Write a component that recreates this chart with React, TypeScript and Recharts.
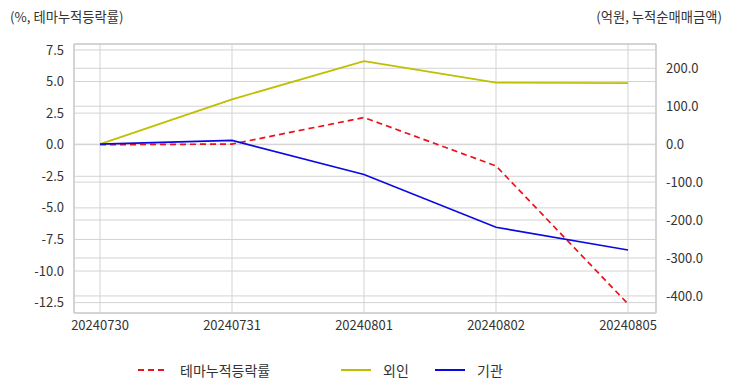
import { CartesianGrid, Line, LineChart, ReferenceLine, XAxis, YAxis } from "recharts";

const dates = ["20240730", "20240731", "20240801", "20240802", "20240805"];
const themeRate = [0, 0.05, 2.15, -1.68, -12.6];
const foreignNet = [0, 118, 219, 162, 161];
const instNet = [0, 10, -80, -219, -279];

const leftTicks = [-12.5, -10, -7.5, -5, -2.5, 0, 2.5, 5, 7.5];
const rightTicks = [-400, -300, -200, -100, 0, 100, 200];
const leftDomain: [number, number] = [-13.32, 7.97];
const rightDomain: [number, number] = [-445, 264];

const series = [
  { key: "theme", name: "테마누적등락률", color: "#e8141c", axis: "left", dash: "6 4", legendX: 138 },
  { key: "foreign", name: "외인", color: "#bfbf00", axis: "right", dash: undefined, legendX: 341 },
  { key: "inst", name: "기관", color: "#0a0ae0", axis: "right", dash: undefined, legendX: 435 },
];

const data = dates.map((date, i) => ({
  date,
  theme: themeRate[i],
  foreign: foreignNet[i],
  inst: instNet[i],
}));

const font = '"Noto Sans CJK KR", "Noto Sans", sans-serif';
const frame = "#cccccc";
const grid = "#d3d3d3";
const tick = { fill: "#333", fontSize: 13, fontFamily: font };

export default function App() {
  return (
    <div style={{ position: "absolute", left: 0, top: 0, width: 732, height: 392, background: "#fff", fontFamily: font }}>
      <div style={{ position: "absolute", left: 10, top: 7, fontSize: 13.3, color: "#333" }}>(%, 테마누적등락률)</div>
      <div style={{ position: "absolute", right: 10, top: 7, fontSize: 13.3, color: "#333" }}>(억원, 누적순매매금액)</div>
      <LineChart width={732} height={392} data={data} margin={{ top: 44, right: 0, bottom: 49, left: 0 }}>
        <CartesianGrid yAxisId="left" stroke={grid} strokeWidth={1} />
        {rightTicks.map((t) => (
          <ReferenceLine key={t} yAxisId="right" y={t} stroke={grid} strokeWidth={1} />
        ))}
        <ReferenceLine yAxisId="left" y={leftDomain[1]} stroke={frame} strokeWidth={1.5} />
        <XAxis
          dataKey="date"
          height={30}
          padding={{ left: 26, right: 28 }}
          tick={tick}
          tickLine={false}
          axisLine={{ stroke: frame, strokeWidth: 1.5 }}
          interval={0}
        />
        <YAxis
          yAxisId="left"
          width={74}
          domain={leftDomain}
          ticks={leftTicks}
          allowDataOverflow
          tickFormatter={(v: number) => v.toFixed(1)}
          tick={tick}
          tickLine={false}
          tickMargin={4}
          axisLine={{ stroke: frame, strokeWidth: 1.5 }}
        />
        <YAxis
          yAxisId="right"
          orientation="right"
          width={76}
          domain={rightDomain}
          ticks={rightTicks}
          allowDataOverflow
          tickFormatter={(v: number) => v.toFixed(1)}
          tick={tick}
          tickLine={false}
          tickMargin={4}
          axisLine={{ stroke: frame, strokeWidth: 1.5 }}
        />
        {series.map((s) => (
          <Line
            key={s.key}
            yAxisId={s.axis}
            dataKey={s.key}
            name={s.name}
            stroke={s.color}
            strokeWidth={1.7}
            strokeDasharray={s.dash}
            dot={false}
            activeDot={false}
            isAnimationActive={false}
          />
        ))}
      </LineChart>
      {series.map((s) => (
        <div
          key={s.key}
          style={{ position: "absolute", left: s.legendX, top: 360, display: "flex", alignItems: "center", fontSize: 14, color: "#333" }}
        >
          <svg width={30} height={10} style={{ marginRight: 12 }}>
            <line x1={0} y1={5} x2={30} y2={5} stroke={s.color} strokeWidth={2} strokeDasharray={s.dash} />
          </svg>
          <span>{s.name}</span>
        </div>
      ))}
    </div>
  );
}
